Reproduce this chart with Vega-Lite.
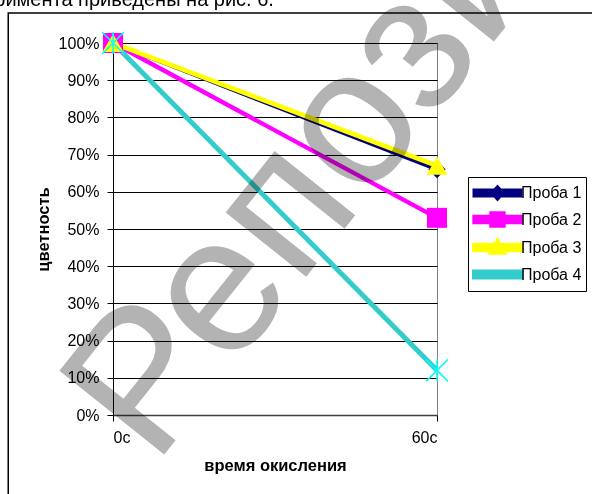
{
  "$schema": "https://vega.github.io/schema/vega-lite/v6.json",
  "width": 324,
  "height": 372,
  "autosize": {"type": "none"},
  "padding": {"left": 113, "top": 43, "right": 155, "bottom": 79},
  "background": "white",
  "config": {
    "font": "Liberation Sans",
    "view": {"stroke": "#808080", "strokeWidth": 1}
  },
  "datasets": {
    "samples": [
      {"series": "Проба 1", "t": 0, "v": 1.0},
      {"series": "Проба 1", "t": 60, "v": 0.66},
      {"series": "Проба 2", "t": 0, "v": 1.0},
      {"series": "Проба 2", "t": 60, "v": 0.53},
      {"series": "Проба 3", "t": 0, "v": 1.0},
      {"series": "Проба 3", "t": 60, "v": 0.67},
      {"series": "Проба 4", "t": 0, "v": 1.0},
      {"series": "Проба 4", "t": 60, "v": 0.12}
    ]
  },
  "data": {"name": "samples"},
  "layer": [
    {
      "mark": {"type": "line", "strokeCap": "butt"},
      "encoding": {
        "x": {
          "field": "t",
          "type": "quantitative",
          "scale": {"domain": [0, 60], "nice": false, "zero": false},
          "axis": {
            "title": "время окисления",
            "values": [0, 60],
            "labelExpr": "datum.value + 'с'",
            "grid": false,
            "domainColor": "#404040",
            "domainWidth": 1.5,
            "tickColor": "black",
            "tickSize": 6,
            "labelPadding": 8,
            "labelFontSize": 16,
            "labelColor": "black",
            "labelFont": "Liberation Sans",
            "titleFont": "Liberation Sans",
            "titleFontSize": 16.5,
            "titleFontWeight": "bold",
            "titleColor": "black",
            "titlePadding": 12
          }
        },
        "y": {
          "field": "v",
          "type": "quantitative",
          "scale": {"domain": [0, 1], "nice": false},
          "axis": {
            "title": "цветность",
            "values": [0, 0.1, 0.2, 0.3, 0.4, 0.5, 0.6, 0.7, 0.8, 0.9, 1.0],
            "tickCount": 11,
            "labelOverlap": false,
            "format": ".0%",
            "grid": true,
            "gridColor": "black",
            "gridWidth": 1,
            "domainColor": "black",
            "domainWidth": 1,
            "tickColor": "black",
            "tickSize": 6,
            "labelPadding": 8,
            "labelFontSize": 16,
            "labelColor": "black",
            "labelFont": "Liberation Sans",
            "titleFont": "Liberation Sans",
            "titleFontSize": 16.5,
            "titleFontWeight": "bold",
            "titleColor": "black",
            "titlePadding": 7
          }
        },
        "color": {
          "field": "series",
          "type": "nominal",
          "scale": {
            "domain": ["Проба 1", "Проба 2", "Проба 3", "Проба 4"],
            "range": ["#000080", "#ff00ff", "#ffff00", "#33cccc"]
          },
          "legend": {
            "title": null,
            "orient": "none",
            "legendX": 355,
            "legendY": 134,
            "strokeColor": "black",
            "fillColor": "white",
            "padding": 4,
            "labelFont": "Liberation Sans",
            "labelFontSize": 16,
            "labelColor": "black",
            "labelOffset": 24,
            "rowPadding": -3.6,
            "symbolSize": 400,
            "symbolStrokeWidth": 0,
            "encode": {
              "symbols": {
                "update": {
                  "shape": {
                    "signal": "datum.value === 'Проба 1' ? 'M-1,-0.25H3.6V0.25H-1Z M0.8,0L1.3,-0.55L1.8,0L1.3,0.55Z' : datum.value === 'Проба 2' ? 'M-1,-0.25H3.6V0.25H-1Z M0.7,-0.6H1.9V0.6H0.7Z' : datum.value === 'Проба 3' ? 'M-1,-0.25H3.6V0.25H-1Z M0.7,0.5L1.3,-0.6L1.9,0.5Z' : 'M-1,-0.25H3.6V0.25H-1Z'"
                  },
                  "fill": {"scale": "color", "field": "value"},
                  "fillOpacity": {"value": 1},
                  "strokeWidth": {"value": 0},
                  "size": {"value": 400}
                }
              }
            }
          }
        },
        "strokeWidth": {
          "field": "series",
          "type": "ordinal",
          "scale": {
            "domain": ["Проба 1", "Проба 2", "Проба 3", "Проба 4"],
            "range": [4, 5, 7, 5]
          },
          "legend": null
        }
      }
    },
    {
      "transform": [{"filter": "datum.series === 'Проба 1'"}],
      "mark": {"type": "point", "shape": "diamond", "filled": true, "color": "#000080", "size": 300, "opacity": 1},
      "encoding": {
        "x": {"field": "t", "type": "quantitative"},
        "y": {"field": "v", "type": "quantitative"}
      }
    },
    {
      "transform": [{"filter": "datum.series === 'Проба 2'"}],
      "mark": {"type": "point", "shape": "square", "filled": true, "color": "#ff00ff", "size": 400, "opacity": 1},
      "encoding": {
        "x": {"field": "t", "type": "quantitative"},
        "y": {"field": "v", "type": "quantitative"}
      }
    },
    {
      "transform": [{"filter": "datum.series === 'Проба 3'"}],
      "mark": {"type": "point", "shape": "triangle-up", "filled": true, "color": "#ffff00", "size": 440, "opacity": 1},
      "encoding": {
        "x": {"field": "t", "type": "quantitative"},
        "y": {"field": "v", "type": "quantitative"}
      }
    },
    {
      "transform": [{"filter": "datum.series === 'Проба 4'"}],
      "mark": {"type": "point", "shape": "M-1,-1L1,1M-1,1L1,-1M0,-1L0,1", "filled": false, "color": "#00ffff", "strokeWidth": 1.5, "size": 484, "opacity": 1},
      "encoding": {
        "x": {"field": "t", "type": "quantitative"},
        "y": {"field": "v", "type": "quantitative"}
      }
    },
    {
      "data": {"values": [{"caption": "эксперимента приведены на рис. 6."}]},
      "mark": {"type": "text", "align": "right", "baseline": "alphabetic", "fontSize": 20, "font": "Liberation Sans", "color": "black"},
      "encoding": {
        "x": {"datum": 29.8, "type": "quantitative"},
        "y": {"datum": 1.0995, "type": "quantitative"},
        "text": {"field": "caption"}
      }
    },
    {
      "data": {"values": [{"frame": "chart area"}]},
      "mark": {"type": "rect", "filled": false, "stroke": "black", "strokeWidth": 1.5, "fill": null},
      "encoding": {
        "x": {"datum": -19.4, "type": "quantitative"},
        "x2": {"datum": 95},
        "y": {"datum": 1.0806, "type": "quantitative"},
        "y2": {"datum": -0.3}
      }
    },
    {
      "data": {"values": [{"mark": "Репозиторий"}]},
      "mark": {"type": "text", "align": "left", "baseline": "alphabetic", "angle": -51.4, "fontSize": 195, "font": "Liberation Sans", "color": "#b3b3b3", "blend": "multiply"},
      "encoding": {
        "x": {"datum": 7.63, "type": "quantitative"},
        "y": {"datum": -0.14, "type": "quantitative"},
        "text": {"field": "mark"}
      }
    }
  ]
}
